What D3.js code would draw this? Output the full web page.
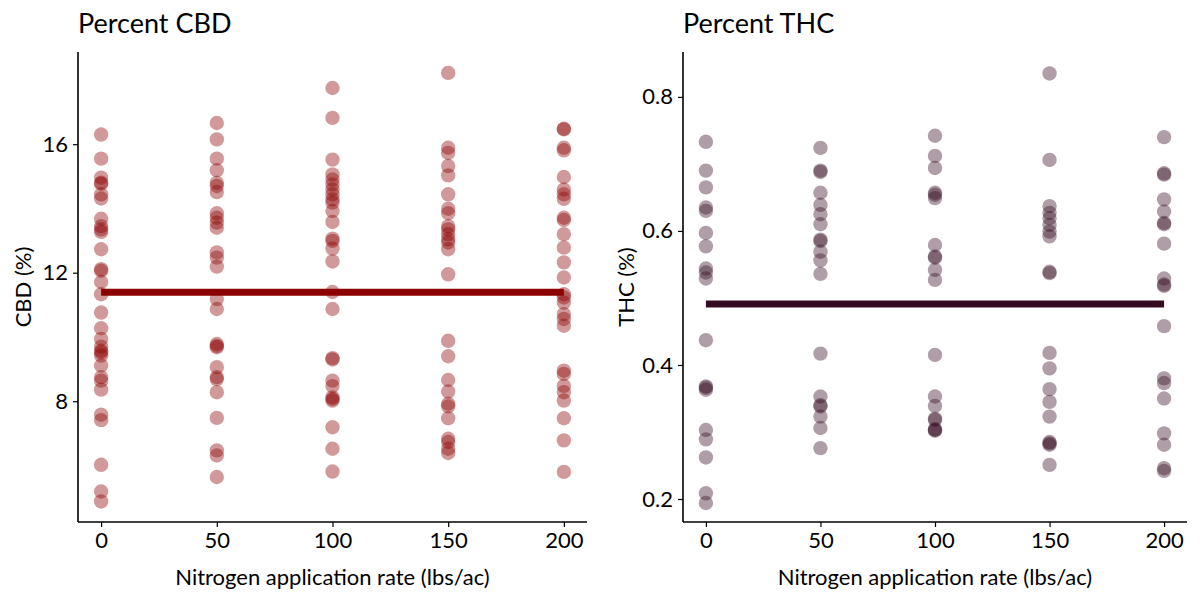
<!DOCTYPE html>
<html>
<head>
<meta charset="utf-8">
<script src="https://cdn.jsdelivr.net/npm/d3@7"></script>
<style>
  body { margin: 0; background: #fff; }
  text { font-family: Lato, "Open Sans", sans-serif; fill: #000; }
</style>
</head>
<body>
<div id="chart"></div>
<script>
// nitrogen rates (x categories)
var rates = [0, 50, 100, 150, 200];

// percent CBD, one array per rate
var cbd_0 = [16.30, 15.55, 14.96, 14.80, 14.77, 14.44, 14.31, 13.68, 13.45, 13.35, 13.27, 12.73, 12.11, 12.06,
  11.71, 11.33, 10.76, 10.27, 9.94, 9.70, 9.57, 9.52, 9.42, 9.11, 8.75, 8.64, 8.36, 7.58, 7.41, 6.02, 5.19, 4.88];
var cbd_50 = [16.66, 16.15, 15.55, 15.19, 14.80, 14.70, 14.51, 13.85, 13.71, 13.56, 13.40, 12.63, 12.47, 12.19,
  11.18, 10.87, 9.78, 9.72, 9.68, 9.06, 8.75, 8.69, 8.28, 7.48, 6.47, 6.31, 5.64];
var cbd_100 = [17.75, 16.82, 15.52, 15.06, 14.90, 14.75, 14.59, 14.44, 14.28, 14.18, 13.92, 13.58, 13.06, 12.99,
  12.75, 12.35, 11.40, 10.87, 9.34, 9.30, 8.64, 8.47, 8.12, 8.07, 8.02, 7.19, 6.52, 5.81];
var cbd_150 = [18.22, 15.89, 15.73, 15.32, 15.03, 14.44, 13.99, 13.85, 13.45, 13.35, 13.20, 13.04, 12.94, 12.73,
  11.95, 9.88, 9.40, 8.66, 8.30, 7.92, 7.84, 7.47, 6.83, 6.73, 6.52, 6.39];
var cbd_200 = [16.48, 16.46, 15.89, 15.81, 14.98, 14.59, 14.44, 14.30, 13.71, 13.64, 13.20, 12.78, 12.32, 11.85,
  11.33, 11.23, 11.07, 10.71, 10.56, 10.35, 8.95, 8.85, 8.48, 8.28, 8.02, 7.47, 6.78, 5.80];
var cbd_mean = 11.39;

// percent THC, one array per rate
var thc_0 = [0.733, 0.690, 0.665, 0.635, 0.630, 0.597, 0.577, 0.544, 0.538, 0.529, 0.437, 0.368, 0.366, 0.363,
  0.303, 0.289, 0.262, 0.2085, 0.194];
var thc_50 = [0.724, 0.690, 0.688, 0.657, 0.639, 0.625, 0.610, 0.587, 0.585, 0.569, 0.556, 0.536, 0.417, 0.353,
  0.340, 0.338, 0.323, 0.306, 0.276];
var thc_100 = [0.742, 0.712, 0.694, 0.657, 0.654, 0.649, 0.579, 0.562, 0.560, 0.542, 0.527, 0.415, 0.353, 0.339,
  0.320, 0.318, 0.304, 0.303, 0.302];
var thc_150 = [0.835, 0.706, 0.637, 0.627, 0.619, 0.609, 0.599, 0.592, 0.539, 0.537, 0.418, 0.395, 0.364, 0.345,
  0.323, 0.285, 0.283, 0.281, 0.251];
var thc_200 = [0.740, 0.686, 0.684, 0.647, 0.629, 0.612, 0.610, 0.581, 0.529, 0.520, 0.518, 0.458, 0.380, 0.373,
  0.350, 0.298, 0.281, 0.246, 0.242];
var thc_mean = 0.491;

var cbdTicks = [8, 12, 16];
var thcTicks = [0.2, 0.4, 0.6, 0.8];

var W = 1200, H = 600;
var svg = d3.select("#chart").append("svg")
  .attr("width", W).attr("height", H);

function panel(opt) {
  var data = [];
  opt.groups.forEach(function (arr, i) {
    arr.forEach(function (v) { data.push({ x: rates[i], y: v }) })
  })

  var x = d3.scaleLinear().domain([-10, 210]).range([opt.left, opt.right]);
  var y = d3.scaleLinear().domain(opt.ydomain).range([522, 52]);

  var g = svg.append("g");

  // points
  g.selectAll("circle")
    .data(data)
    .enter()
    .append("circle")
    .attr("cx", function (d) { return x(d.x) })
    .attr("cy", function (d) { return y(d.y) })
    .attr("r", 7.2)
    .attr("fill", opt.color)
    .attr("fill-opacity", 0.4);

  // mean line
  g.append("line")
    .attr("x1", x(0)).attr("x2", x(200))
    .attr("y1", y(opt.mean)).attr("y2", y(opt.mean))
    .attr("stroke", opt.color)
    .attr("stroke-width", 7);

  // axes
  var xAxis = g.append("g")
    .attr("transform", "translate(0,522)")
    .call(d3.axisBottom(x).tickValues(rates).tickSize(5).tickPadding(5));
  var yAxis = g.append("g")
    .attr("transform", "translate(" + opt.left + ",0)")
    .call(d3.axisLeft(y).tickValues(opt.ticks).tickSize(5).tickPadding(5).tickFormat(opt.fmt));

  [xAxis, yAxis].forEach(function (a) {
    a.select(".domain").attr("stroke", "#000").attr("stroke-width", 1.6);
    a.selectAll(".tick line").attr("stroke", "#000").attr("stroke-width", 1.2);
    a.selectAll(".tick text").style("font-size", "22px").attr("fill", "#000");
  })
  yAxis.select(".domain").attr("d", "M0,52V522");
  xAxis.select(".domain").attr("d", "M" + opt.left + ",0H" + opt.right);

  // titles
  g.append("text")
    .attr("x", opt.left)
    .attr("y", 33)
    .style("font-size", "27px")
    .text(opt.title);

  g.append("text")
    .attr("x", (opt.left + opt.right) / 2)
    .attr("y", 585)
    .attr("text-anchor", "middle")
    .style("font-size", "22px")
    .text("Nitrogen application rate (lbs/ac)");

  g.append("text")
    .attr("transform", "translate(" + (opt.left - opt.ylabOff) + ",287) rotate(-90)")
    .attr("text-anchor", "middle")
    .style("font-size", "22px")
    .text(opt.ylabel);
}

panel({
  groups: [cbd_0, cbd_50, cbd_100, cbd_150, cbd_200],
  mean: cbd_mean,
  left: 78, right: 587,
  ydomain: [4.24, 18.87],
  ticks: cbdTicks,
  fmt: d3.format("d"),
  color: "#8b0000",
  title: "Percent CBD",
  ylabel: "CBD (%)",
  ylabOff: 47
});

panel({
  groups: [thc_0, thc_50, thc_100, thc_150, thc_200],
  mean: thc_mean,
  left: 683, right: 1187,
  ydomain: [0.1657, 0.867],
  ticks: thcTicks,
  fmt: d3.format(".1f"),
  color: "#360c22",
  title: "Percent THC",
  ylabel: "THC (%)",
  ylabOff: 49
});
</script>
</body>
</html>
